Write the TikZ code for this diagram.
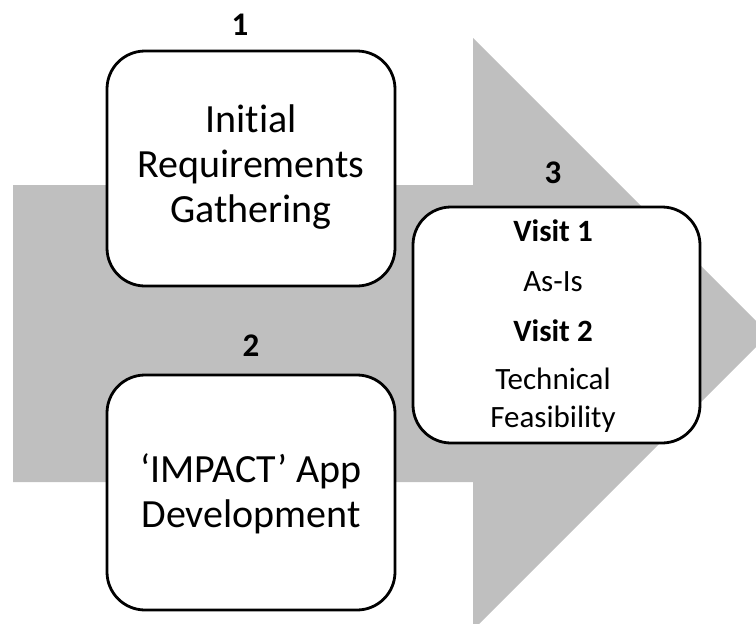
\documentclass[tikz,border=0pt]{standalone}
\usepackage{fontspec}
\setmainfont{Carlito}[Ligatures=NoCommon]
\definecolor{arrowgray}{HTML}{BFBFBF}
\begin{document}
\begin{tikzpicture}[x=1pt,y=-1pt,
  stepbox/.style={draw=black, line width=2.8pt, fill=white, rounded corners=38pt, inner sep=0pt},
  numlabel/.style={font=\bfseries\fontsize{33}{36}\selectfont, inner sep=0pt},
  bigtext/.style={font=\fontsize{40}{45}\selectfont, align=center, inner sep=0pt},
  smalltext/.style={font=\fontsize{31}{38}\selectfont, align=center, inner sep=0pt}]
\useasboundingbox (0,0) rectangle (756,624);
\clip (0,0) rectangle (756,624);
% big arrow
\fill[arrowgray] (13,185) -- (473,185) -- (473,38) -- (769,334) -- (473,630) -- (473,482) -- (13,482) -- cycle;
% boxes
\draw[stepbox] (107,51) rectangle (395,286);
\node[bigtext] (b1) at (251,167) {Initial\\Requirements\\Gathering};
\draw[stepbox] (107,375) rectangle (395,610);
\node[bigtext] (b2) at (251,494) {‘IMPACT’ App\\Development};
\draw[stepbox] (413,207) rectangle (700,443);
\node[smalltext, font=\bfseries\fontsize{31}{38}\selectfont] (v1) at (553,231) {Visit 1};
\node[smalltext] (as) at (553,282) {As-Is};
\node[smalltext, font=\bfseries\fontsize{31}{38}\selectfont] (v2) at (553,331) {Visit 2};
\node[smalltext] (tf) at (553,400) {Technical\\Feasibility};
% numbers
\node[numlabel] (n1) at (240,25) {1};
\node[numlabel] (n2) at (251,346) {2};
\node[numlabel] (n3) at (553,173) {3};
\end{tikzpicture}
\end{document}
